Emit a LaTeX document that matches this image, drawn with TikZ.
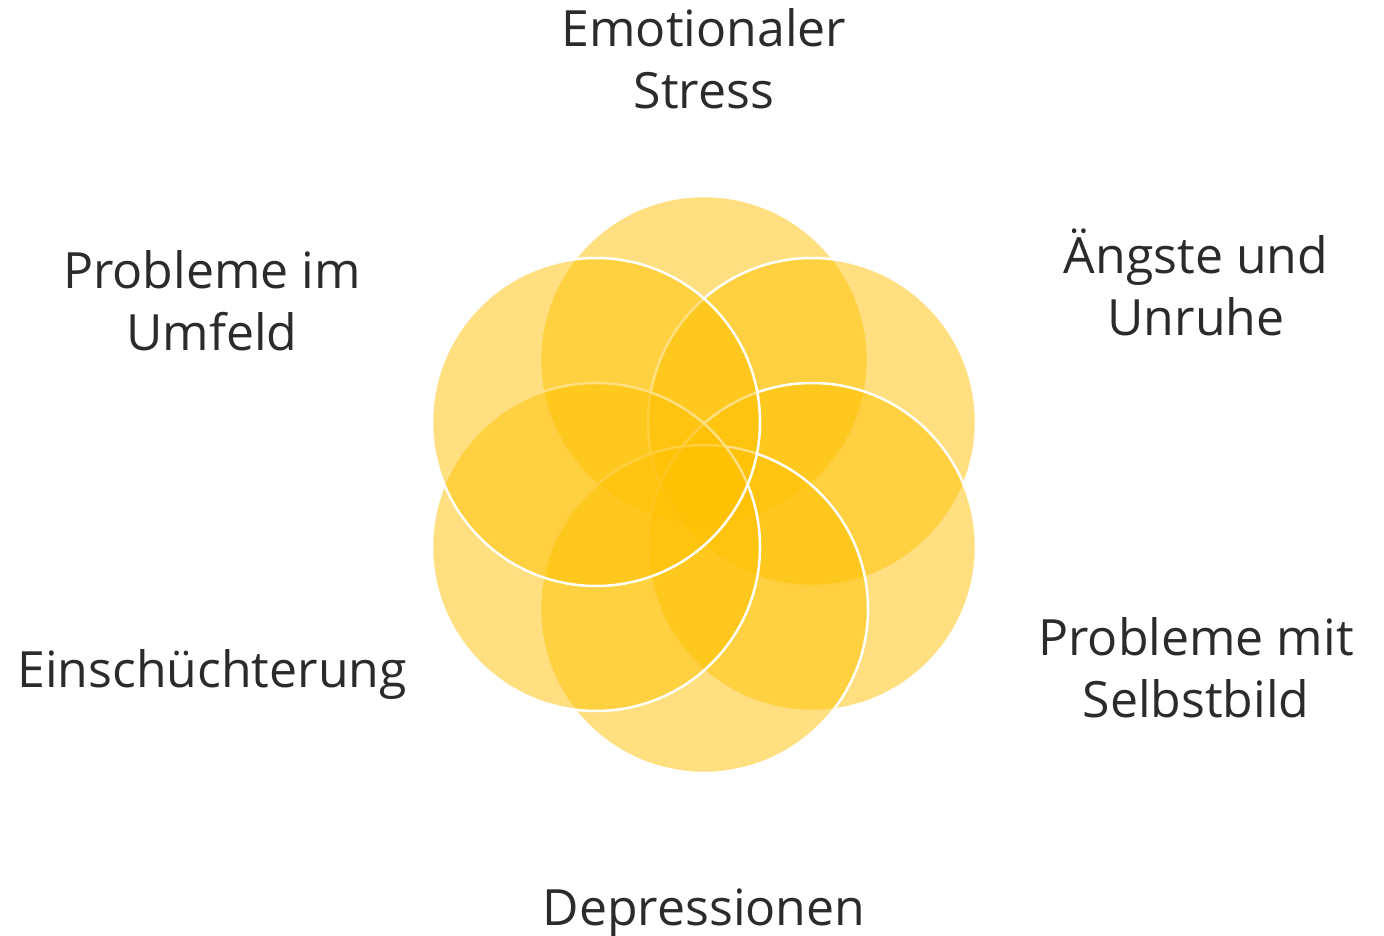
\documentclass[tikz,border=0pt]{standalone}
\usepackage{fontspec}
\setmainfont{Open Sans}
\definecolor{petal}{HTML}{FFC000}
\definecolor{labeltext}{HTML}{2B2B2B}
\begin{document}
\begin{tikzpicture}[x=1pt,y=-1pt,
  petalcircle/.style={circle, minimum size=328pt, inner sep=0pt, fill=petal, fill opacity=0.5, draw=white, draw opacity=1, line width=2.5pt},
  lbl/.style={align=center, text=labeltext, font=\fontsize{50}{62}\selectfont, inner sep=0pt, anchor=base}]
\useasboundingbox (0,0) rectangle (1384,936);
\node[petalcircle] (ctop) at (704,360) {};
\node[petalcircle] (cur) at (812,422) {};
\node[petalcircle] (clr) at (812,547) {};
\node[petalcircle] (cbot) at (704,609) {};
\node[petalcircle] (cll) at (596,547) {};
\node[petalcircle] (cul) at (596,422) {};
\node[lbl] (ltop) at (704,109) {Emotionaler\\Stress};
\node[lbl] (lur) at (1196,335) {Ängste und\\Unruhe};
\node[lbl] (llr) at (1196,717) {Probleme mit\\Selbstbild};
\node[lbl] (lbot) at (704,925) {Depressionen};
\node[lbl] (lll) at (212,687) {Einschüchterung};
\node[lbl] (lul) at (212,350) {Probleme im\\Umfeld};
\end{tikzpicture}
\end{document}
